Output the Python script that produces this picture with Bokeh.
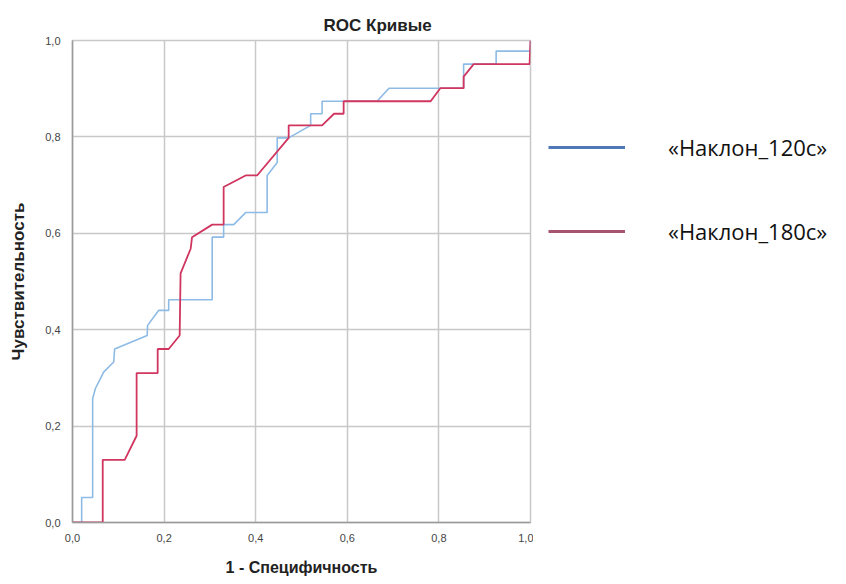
from bokeh.plotting import figure
from bokeh.layouts import row
from bokeh.models import Legend, LegendItem, CustomJSTickFormatter, FixedTicker, Range1d
from bokeh.embed import file_html
from bokeh.resources import INLINE

# ROC curve points
fpr_120 = [0, 0.02, 0.02, 0.044, 0.044, 0.050, 0.068, 0.090, 0.092, 0.163, 0.164, 0.188, 0.21, 0.21,
           0.305, 0.305, 0.330, 0.330, 0.352, 0.378, 0.425, 0.425, 0.447, 0.447, 0.472, 0.52, 0.52,
           0.545, 0.545, 0.665, 0.691, 0.854, 0.854, 0.925, 0.925, 1.0, 1.0]
tpr_120 = [0, 0, 0.052, 0.052, 0.257, 0.278, 0.312, 0.333, 0.360, 0.388, 0.409, 0.44, 0.44, 0.462,
           0.462, 0.592, 0.592, 0.618, 0.618, 0.643, 0.643, 0.72, 0.747, 0.798, 0.798, 0.824, 0.848,
           0.848, 0.874, 0.874, 0.901, 0.901, 0.951, 0.951, 0.978, 0.978, 1.0]

fpr_180 = [0, 0.066, 0.066, 0.114, 0.14, 0.14, 0.186, 0.186, 0.21, 0.234, 0.236, 0.258, 0.261,
           0.305, 0.330, 0.330, 0.378, 0.403, 0.472, 0.472, 0.545, 0.571, 0.592, 0.592, 0.782,
           0.803, 0.854, 0.854, 0.876, 0.998, 1.0]
tpr_180 = [0, 0, 0.130, 0.130, 0.18, 0.31, 0.31, 0.36, 0.36, 0.388, 0.517, 0.568, 0.592,
           0.618, 0.618, 0.696, 0.72, 0.72, 0.798, 0.824, 0.824, 0.848, 0.848, 0.874, 0.874,
           0.901, 0.901, 0.925, 0.951, 0.951, 1.0]

series_names = ["«Наклон_120с»", "«Наклон_180с»"]
ticks = [0.0, 0.2, 0.4, 0.6, 0.8, 1.0]

p = figure(width=533, height=584, output_backend="svg", toolbar_location=None,
           x_range=Range1d(0, 1), y_range=Range1d(0, 1),
           min_border_left=72, min_border_right=3, min_border_top=40, min_border_bottom=62)
p.background_fill_color = "white"
p.border_fill_color = "white"
p.outline_line_color = "#c8c8c8"
p.outline_line_width = 1.5

p.title.text = "ROC Кривые"
p.title.align = "left"
p.title.offset = 251
p.title.text_font = "Liberation Sans"
p.title.text_font_style = "bold"
p.title.text_font_size = "17px"
p.title.text_color = "#222222"
p.title.standoff = 11

fmt = CustomJSTickFormatter(code="return tick.toFixed(1).replace('.', ',');")
for ax in (p.xaxis[0], p.yaxis[0]):
    ax.ticker = FixedTicker(ticks=ticks)
    ax.formatter = fmt
    ax.major_tick_line_color = None
    ax.minor_tick_line_color = None
    ax.axis_line_color = "#9a9a9a"
    ax.axis_line_width = 1.5
    ax.major_label_text_font = "Liberation Sans"
    ax.major_label_text_font_size = "11px"
    ax.major_label_text_color = "#444444"
    ax.axis_label_text_font = "Liberation Sans"
    ax.axis_label_text_font_style = "bold"
    ax.axis_label_text_color = "#222222"

p.xaxis.axis_label = "1 - Специфичность"
p.yaxis.axis_label = "Чувствительность"
p.xaxis.axis_label_text_font_size = "16px"
p.yaxis.axis_label_text_font_size = "17px"
p.xaxis.major_label_standoff = 5
p.xaxis.axis_label_standoff = 14
p.yaxis.major_label_standoff = 6
p.yaxis.axis_label_standoff = 14

for g in (p.xgrid[0], p.ygrid[0]):
    g.ticker = FixedTicker(ticks=ticks)
    g.grid_line_color = "#c8c8c8"
    g.grid_line_width = 1.5

p.line(fpr_120, tpr_120, line_color="#8dbbe6", line_width=1.6)
p.line(fpr_180, tpr_180, line_color="#d0365f", line_width=1.8)

# legend panel (separate, axis-less figure to the right)
p2 = figure(width=313, height=584, output_backend="svg", toolbar_location=None,
            x_axis_type=None, y_axis_type=None, x_range=Range1d(0, 1), y_range=Range1d(0, 1),
            min_border=0)
p2.outline_line_color = None
p2.background_fill_color = "white"
p2.border_fill_color = "white"
p2.xgrid.visible = False
p2.ygrid.visible = False

nan = float("nan")
l1 = p2.line([nan], [nan], line_color="#4f79b6", line_width=3)
l2 = p2.line([nan], [nan], line_color="#a75470", line_width=3)
legend = Legend(items=[LegendItem(label=series_names[0], renderers=[l1]),
                       LegendItem(label=series_names[1], renderers=[l2])],
                location=(15, 276), orientation="vertical",
                glyph_width=77, glyph_height=24, label_height=24, label_standoff=43,
                spacing=54, padding=0, margin=0,
                label_text_font="Open Sans", label_text_font_size="22px",
                label_text_color="#111111",
                border_line_color=None, background_fill_alpha=0)
p2.add_layout(legend, "center")

layout = row(p, p2)
open("out.html", "w").write(file_html(layout, INLINE))
